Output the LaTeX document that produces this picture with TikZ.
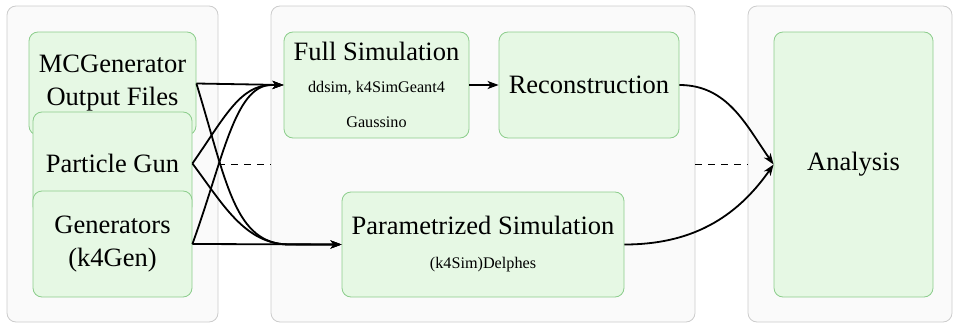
\documentclass[tikz,border=0pt]{standalone}
\usepackage{fontspec}
\setmainfont{Liberation Serif}
\usetikzlibrary{arrows.meta}

\newcommand{\bigfont}{\fontsize{26.5}{33}\selectfont}
\newcommand{\smallfont}{\fontsize{16.2}{20}\selectfont}

\begin{document}
\begin{tikzpicture}[x=1pt,y=-1pt]
  % Colors
  \definecolor{phasefill}{RGB}{250,250,250}
  \definecolor{phaseline}{RGB}{204,204,204}
  \definecolor{stagefill}{RGB}{230,248,228}
  \definecolor{stageline}{RGB}{140,205,140}

  % Styles
  \tikzstyle{phase}=[draw=phaseline,fill=phasefill,line width=0.8pt,
    rounded corners=9pt,inner sep=0pt]
  \tikzstyle{stage}=[draw=stageline,fill=stagefill,line width=0.8pt,
    rounded corners=9pt,inner sep=0pt,align=center,font=\bigfont]
  \tikzstyle{flow}=[line width=1.8pt,-{Stealth[length=11pt,width=8pt,inset=3pt]}]
  \tikzstyle{link}=[line width=0.8pt,dash pattern=on 7pt off 6pt]

  \useasboundingbox (0,0) rectangle (953,324);

  % The groups
  \node[phase,minimum width=211pt,minimum height=316pt] (input) at (112.5,164) {};
  \node[phase,minimum width=424pt,minimum height=316pt] (sim) at (483,164) {};
  \node[phase,minimum width=204pt,minimum height=316pt] (ana box) at (850,164) {};

  % The stages
  \node[stage,minimum width=167pt,minimum height=103pt] (mcgen) at (112.5,83.5)
    {MCGenerator\\Output Files};
  \node[stage,minimum width=159pt,minimum height=103pt] (pgun) at (112.5,163.5)
    {Particle Gun};
  \node[stage,minimum width=159pt,minimum height=106pt] (gen) at (112.5,244)
    {Generators\\(k4Gen)};

  \node[stage,minimum width=185pt,minimum height=106pt] (fullsim) at (376.5,85)
    {Full Simulation\\[-1pt]{\smallfont ddsim, k4SimGeant4}\\[2pt]{\smallfont Gaussino}};
  \node[stage,minimum width=180pt,minimum height=106pt] (reco) at (589,85)
    {Reconstruction};
  \node[stage,minimum width=282pt,minimum height=105pt] (param) at (483,244.5)
    {Parametrized Simulation\\[1pt]{\smallfont (k4Sim)Delphes}};
  \node[stage,minimum width=159pt,minimum height=265pt] (ana) at (853.5,164.5)
    {Analysis};

  % The connections
  \draw[flow] (mcgen.east) -- (fullsim.west);
  \draw[flow] (mcgen.east) to[out=-73,in=180,out distance=105pt,in distance=55pt]
    ([xshift=-52pt]param.west) -- (param.west);
  \draw[flow] (pgun.east) to[out=55,in=180,out distance=55pt,in distance=32pt]
    ([xshift=-12pt]fullsim.west) -- (fullsim.west);
  \draw[flow] (pgun.east) to[out=-53,in=180,out distance=50pt,in distance=45pt]
    ([xshift=-52pt]param.west) -- (param.west);
  \draw[flow] (gen.east) to[out=70,in=180,out distance=90pt,in distance=37pt]
    ([xshift=-12pt]fullsim.west) -- (fullsim.west);
  \draw[flow] (gen.east) -- (param.west);

  \draw[flow] (fullsim) -- (reco);
  \draw[flow] (reco.east) to[out=0,in=125] (ana.west);
  \draw[flow] (param.east) to[out=0,in=-125] (ana.west);

  \draw[link] (input.east) -- (sim.west);
  \draw[link] (sim.east) -- (ana box.west);
\end{tikzpicture}
\end{document}
